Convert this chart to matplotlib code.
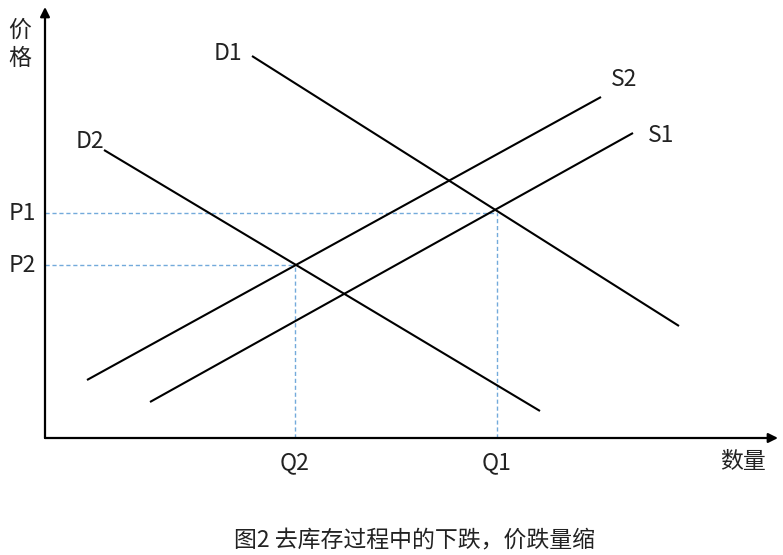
import matplotlib
matplotlib.use('Agg')
import matplotlib.pyplot as plt

plt.rcParams['font.family'] = ['Noto Sans CJK SC', 'DejaVu Sans']

# curve end points (quantity, price), origin at the axes corner
d1_q = [207, 634]
d1_p = [382, 112]
d2_q = [59, 495]
d2_p = [288, 27]
s2_q = [42, 556]
s2_p = [58, 341]
s1_q = [105, 588]
s1_p = [36, 305]

# equilibrium points
q_vals = [452, 250]
p_vals = [225, 173]
q_labels = ['Q1', 'Q2']
p_labels = ['P1', 'P2']

fig = plt.figure(figsize = (7.83, 5.55), dpi = 100)
ax = fig.add_axes([0, 0, 1, 1])
ax.set_xlim(-45, 738)
ax.set_ylim(-117, 438)
ax.axis('off')

# axes with arrow heads
ax.annotate('', xy = (733, 0), xytext = (0, 0),
	arrowprops = dict(arrowstyle = '-|>', lw = 1.6, color = 'black', mutation_scale = 14, shrinkA = 0, shrinkB = 0))
ax.annotate('', xy = (0, 431), xytext = (0, 0),
	arrowprops = dict(arrowstyle = '-|>', lw = 1.6, color = 'black', mutation_scale = 14, shrinkA = 0, shrinkB = 0))

# guide lines (light blue dashes)
dash_col = '#5b9bd5'
for q, p in zip(q_vals, p_vals):
	ax.plot([0, q], [p, p], ls = (0, (3, 2)), color = dash_col, lw = 1.0, alpha = 0.85)
	ax.plot([q, q], [0, p], ls = (0, (3, 2)), color = dash_col, lw = 1.0, alpha = 0.85)

# demand and supply
for qq, pp in [(d1_q, d1_p), (d2_q, d2_p), (s2_q, s2_p), (s1_q, s1_p)]:
	ax.plot(qq, pp, color = 'black', lw = 1.5, solid_capstyle = 'butt')

fs = 16.5
tc = '#222222'
kw = dict(fontsize = fs, ha = 'center', va = 'center', color = tc, fontweight = 'light')
ax.text(d1_q[0] - 24, d1_p[0] + 2, 'D1', **kw)
ax.text(d2_q[0] - 14, d2_p[0] + 9, 'D2', **kw)
ax.text(s2_q[1] + 23, s2_p[1] + 17, 'S2', **kw)
ax.text(s1_q[1] + 28, s1_p[1] - 2, 'S1', **kw)

for q, lab in zip(q_vals, q_labels):
	ax.text(q, -25, lab, **kw)
for p, lab in zip(p_vals, p_labels):
	ax.text(-23, p, lab, **kw)

ax.text(-25, 408, '价', **kw)
ax.text(-25, 380, '格', **kw)
ax.text(698, -23, '数量', **kw)

ax.text(369, -103, '图2 去库存过程中的下跌，价跌量缩', **kw)

fig.savefig('out.png', dpi = 100)
